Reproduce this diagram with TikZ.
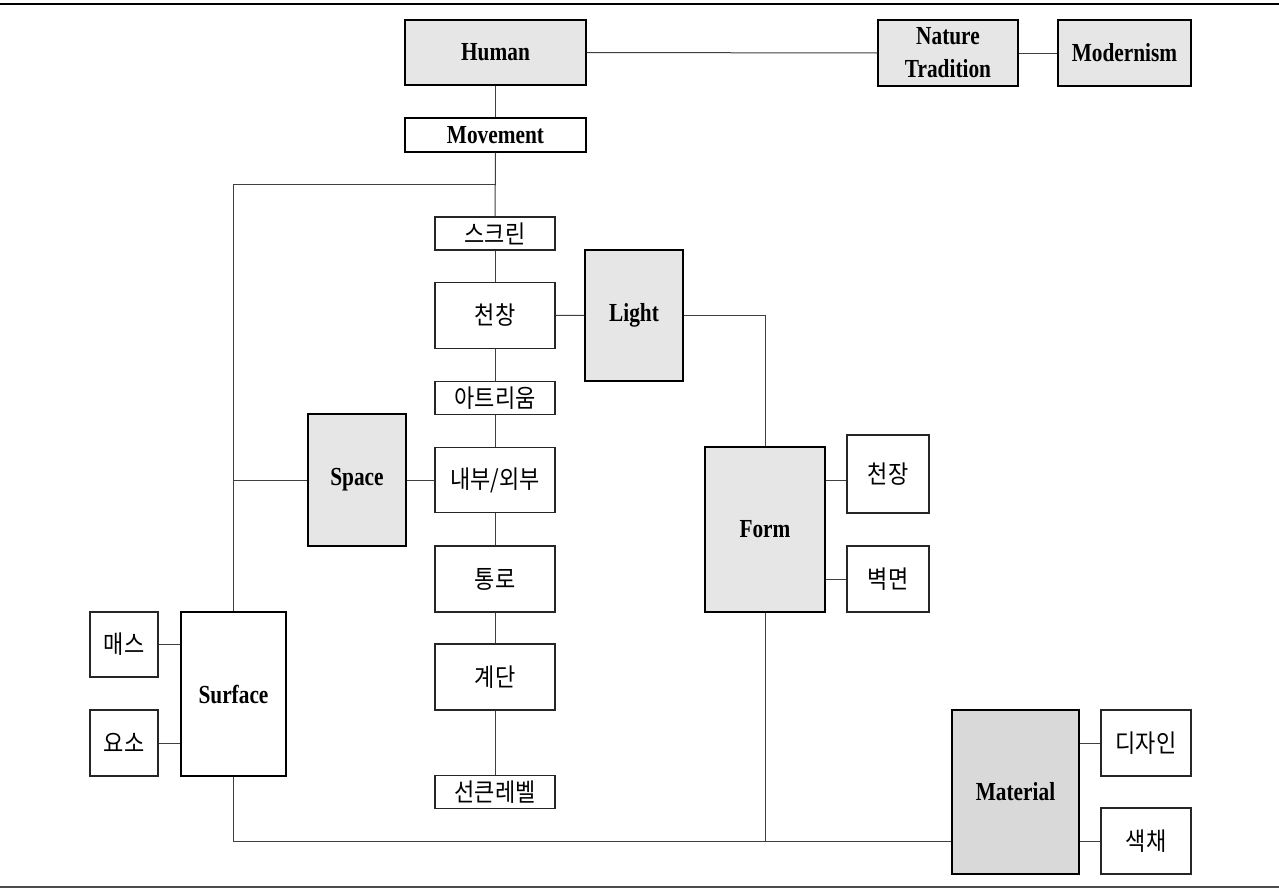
\documentclass[tikz,border=0pt]{standalone}
\usepackage{fontspec}
\setmainfont{Liberation Serif}
\newfontfamily\enfont{Liberation Serif}[FakeStretch=0.82]
\newfontfamily\kofont{Noto Sans CJK KR}[FakeStretch=0.88]
\definecolor{boxgray}{HTML}{E6E6E6}
\definecolor{matgray}{HTML}{D9D9D9}
\begin{document}
\begin{tikzpicture}[x=1pt,y=-1pt,
  box/.style={draw=black, line width=1.3pt, rectangle, inner sep=0pt, align=center,
    font=\enfont\bfseries\fontsize{26}{33}\selectfont},
  gbox/.style={box, fill=boxgray},
  kbox/.style={draw=black!85, line width=1.1pt, rectangle, inner sep=0pt, fill=white,
    font=\kofont\fontsize{25}{28}\selectfont},
  link/.style={draw=black!75, line width=1pt},
  rule/.style={draw=black, line width=2.5pt}]
\useasboundingbox (0,0) rectangle (1279,889);
\fill[white] (0,0) rectangle (1279,889);
% rules
\coordinate (rtl) at (0,4); \coordinate (rtr) at (1279,4);
\coordinate (rbl) at (0,887); \coordinate (rbr) at (1279,887);
\draw[rule] (rtl) -- (rtr);
\draw[draw=black!70, line width=1.5pt] (rbl) -- (rbr);
% top row
\node[gbox, minimum width=181pt, minimum height=65pt] (human) at (495.5,52.5) {Human};
\node[box, fill=white, minimum width=181pt, minimum height=34pt] (movement) at (495.5,135) {Movement};
\node[gbox, minimum width=140pt, minimum height=66pt] (nature) at (948,53) {Nature\\Tradition};
\node[gbox, minimum width=133pt, minimum height=66pt] (modern) at (1124.5,53) {Modernism};
% centre column
\node[kbox, minimum width=120pt, minimum height=33pt] (screen) at (495,233.5) {스크린};
\node[kbox, minimum width=120pt, minimum height=66pt] (skylight) at (495,315.3) {천창};
\node[kbox, minimum width=120pt, minimum height=33pt] (atrium) at (495,398) {아트리움};
\node[kbox, minimum width=120pt, minimum height=65pt] (inout) at (495,480) {내부/외부};
\node[kbox, minimum width=120pt, minimum height=66pt] (passage) at (495,579) {통로};
\node[kbox, minimum width=120pt, minimum height=66pt] (stairs) at (495,677) {계단};
\node[kbox, minimum width=120pt, minimum height=33pt] (sunken) at (495,792.3) {선큰레벨};
% grey boxes
\node[gbox, minimum width=98pt, minimum height=131pt] (light) at (634,315.5) {Light};
\node[gbox, minimum width=98pt, minimum height=132pt] (space) at (357,480) {Space};
\node[gbox, minimum width=120pt, minimum height=165pt] (form) at (765,529.5) {Form};
\node[box, fill=white, minimum width=105pt, minimum height=164pt] (surface) at (233.5,694) {Surface};
\node[box, fill=matgray, minimum width=127pt, minimum height=164pt] (material) at (1015.5,792) {Material};
% side boxes
\node[kbox, minimum width=82pt, minimum height=78pt] (ceiling) at (888,474) {천장};
\node[kbox, minimum width=82pt, minimum height=66pt] (wall) at (888,579) {벽면};
\node[kbox, minimum width=68pt, minimum height=65pt] (mass) at (124,644.5) {매스};
\node[kbox, minimum width=68pt, minimum height=66pt] (element) at (124,743) {요소};
\node[kbox, minimum width=90pt, minimum height=66pt] (design) at (1146,743) {디자인};
\node[kbox, minimum width=90pt, minimum height=66pt] (colour) at (1146,841) {색채};
% junction coordinates
\coordinate (j1) at (495.5,184);
\coordinate (j2) at (233.5,184);
\coordinate (j3) at (233.5,480);
\coordinate (j4) at (765,315.5);
\coordinate (j5) at (233.5,841);
\coordinate (j6) at (765,841);
% connectors
\draw[link] (human.east) -- (nature.west);
\draw[link] (nature.east) -- (modern.west);
\draw[link] (human.south) -- (movement.north);
\draw[link] (movement.south) -- (screen.north);
\draw[link] (j1) -- (j2) -- (surface.north);
\draw[link] (screen.south) -- (skylight.north);
\draw[link] (skylight.south) -- (atrium.north);
\draw[link] (atrium.south) -- (inout.north);
\draw[link] (inout.south) -- (passage.north);
\draw[link] (passage.south) -- (stairs.north);
\draw[link] (stairs.south) -- (sunken.north);
\draw[link] (skylight.east) -- (light.west);
\draw[link] (light.east) -- (j4) -- (form.north);
\draw[link] (space.east) -- (inout.west);
\draw[link] (j3) -- (space.west);
\draw[link] (form.east |- inout) -- (ceiling.west |- inout);
\draw[link] (form.east |- wall) -- (wall.west);
\draw[link] (surface.west |- mass) -- (mass.east);
\draw[link] (surface.west |- element) -- (element.east);
\draw[link] (surface.south) -- (j5) -- (material.west |- j5);
\draw[link] (form.south) -- (j6);
\draw[link] (material.east |- design) -- (design.west);
\draw[link] (material.east |- colour) -- (colour.west);
\end{tikzpicture}
\end{document}
